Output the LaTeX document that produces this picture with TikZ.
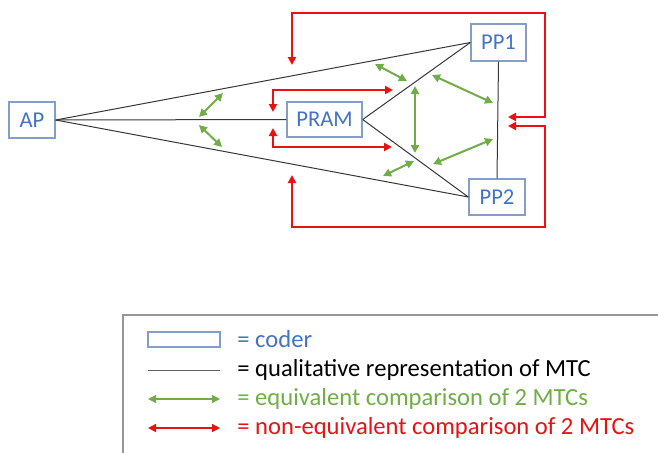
\documentclass[tikz,border=0pt]{standalone}
\usepackage{fontspec}
\setmainfont{Carlito}
\usetikzlibrary{arrows.meta}
\definecolor{CoderBlue}{RGB}{68,114,196}
\definecolor{BoxBlue}{RGB}{132,158,200}
\definecolor{EqGreen}{RGB}{112,173,71}
\definecolor{NeqRed}{RGB}{232,18,18}
\definecolor{LineGray}{RGB}{55,55,55}
\definecolor{FrameGray}{RGB}{150,150,150}

\begin{document}
\begin{tikzpicture}[
    x=0.5pt, y=-0.5pt,
    coder/.style={draw=BoxBlue, line width=0.7pt, text=CoderBlue, inner sep=0,
        font=\fontsize{11.3}{13}\selectfont, minimum height=18pt},
    mtc/.style={draw=LineGray, line width=0.5pt},
    eqarr/.style={EqGreen, line width=1pt,
        {Triangle[length=4pt,width=4pt]}-{Triangle[length=4pt,width=4pt]}},
    neqarr/.style={NeqRed, line width=1pt,
        {Triangle[length=4pt,width=4pt]}-{Triangle[length=4pt,width=4pt]}},
    legtxt/.style={anchor=west, inner sep=0, font=\fontsize{12.3}{14}\selectfont},
]
\path[use as bounding box] (0,0) rectangle (658,452);

% ===== coders =====
\node[coder, minimum width=23pt] (ap) at (32,120) {AP};
\node[coder, minimum width=37.5pt, minimum height=17.5pt] (pram) at (324.5,119.5) {PRAM};
\node[coder, minimum width=27.5pt, minimum height=18.5pt] (pp1) at (498.5,42.5) {PP1};
\node[coder, minimum width=28pt] (pp2) at (497,197) {PP2};

% ===== MTC =====
\draw[mtc] (ap.east) -- (pp1.west);
\draw[mtc] (ap.east) -- (pram.west);
\draw[mtc] (ap.east) -- (pp2.west);
\draw[mtc] (pram.east) -- (pp1.west);
\draw[mtc] (pram.east) -- (pp2.west);
\draw[mtc] (pp1.south) -- (pp2.north);

% ===== equivalent comparisons =====
\foreach \n/\xa/\ya/\xb/\yb in {1/199/117/223/93, 2/199/125/222/147,
        3/375/64/407/81, 4/415/86/415/153, 5/432/75/493/103,
        6/493/139/433/164, 7/383/176/414/161}{
    \coordinate (ga\n) at (\xa,\ya);
    \coordinate (gb\n) at (\xb,\yb);
    \draw[eqarr] (ga\n) -- (gb\n);
}

% ===== non-equivalent comparisons =====
\coordinate (ta) at (292,65);
\coordinate (tb) at (508,117);
\draw[neqarr] (ta) |- (545,13) |- (tb);
\coordinate (ba) at (292,175);
\coordinate (bb) at (508,126);
\draw[neqarr] (ba) |- (545,227) |- (bb);
\coordinate (pa) at (273,112);
\coordinate (pb) at (393,90);
\draw[neqarr] (pa) |- (pb);
\coordinate (pc) at (273,128);
\coordinate (pd) at (392,147);
\draw[neqarr] (pc) |- (pd);

% ===== legend =====
\begin{scope}
    \clip (0,0) rectangle (658,452);
    \draw[FrameGray, line width=0.9pt] (123,315) rectangle (700,500);
\end{scope}
\node[draw=BoxBlue, line width=0.7pt, minimum width=36pt, minimum height=7.5pt, inner sep=0]
    (lcoder) at (184,339.5) {};
\coordinate (lla) at (148,370);
\coordinate (llb) at (220,370);
\draw[mtc, draw=LineGray!80] (lla) -- (llb);
\coordinate (lga) at (148,399);
\coordinate (lgb) at (220,399);
\draw[eqarr, line width=0.6pt] (lga) -- (lgb);
\coordinate (lra) at (148,428);
\coordinate (lrb) at (220,428);
\draw[neqarr, line width=0.8pt] (lra) -- (lrb);
\node[legtxt, text=CoderBlue] (tcoder) at (237,339) {= coder};
\node[legtxt, text=black] (tmtc) at (237,370) {= qualitative representation of MTC};
\node[legtxt, text=EqGreen] (teq) at (237,399) {= equivalent comparison of 2 MTCs};
\node[legtxt, text=NeqRed] (tneq) at (237,428) {= non-equivalent comparison of 2 MTCs};

\end{tikzpicture}
\end{document}
